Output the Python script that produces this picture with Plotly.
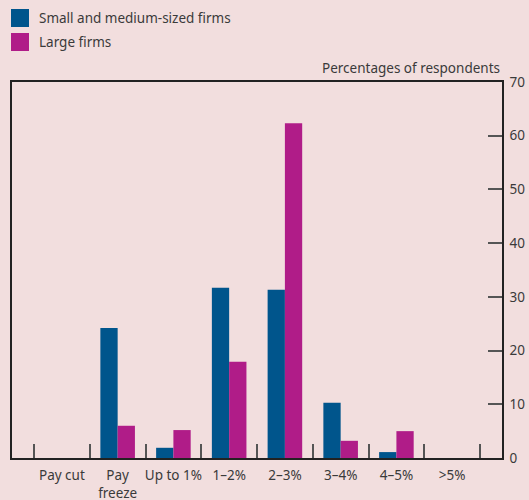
import plotly.graph_objects as go

categories = ["Pay cut", "Pay<br>freeze", "Up to 1%", "1–2%", "2–3%", "3–4%", "4–5%", ">5%"]
small_medium = [0, 24.2, 1.9, 31.7, 31.3, 10.3, 1.1, 0]
large = [0, 6.0, 5.2, 17.9, 62.3, 3.2, 5.0, 0]
series_names = ["Small and medium-sized firms", "Large firms"]
y_ticks = [0, 10, 20, 30, 40, 50, 60, 70]

BLUE = "#00558C"
MAGENTA = "#B01C88"
BG = "#F2DEDE"
TXT = "#3a3a3a"
FONT = "Noto Sans"

W, H = 529, 500
L, R, T, B = 12, 27, 82, 42
PW, PH = W - L - R, H - T - B

def px_x(px):
    return (px - L) / PW

def px_y(py):
    return (H - B - py) / PH

fig = go.Figure()
fig.add_trace(go.Bar(x=categories, y=small_medium, name=series_names[0],
                     marker=dict(color=BLUE, line=dict(width=0)), showlegend=False))
fig.add_trace(go.Bar(x=categories, y=large, name=series_names[1],
                     marker=dict(color=MAGENTA, line=dict(width=0)), showlegend=False))

fig.update_layout(
    width=W, height=H,
    margin=dict(l=L, r=R, t=T, b=B, autoexpand=False),
    paper_bgcolor=BG, plot_bgcolor=BG,
    barmode="group", bargap=0.38, bargroupgap=0,
    font=dict(family=FONT, size=13, color=TXT),
    xaxis=dict(type="category", range=[-0.895, 7.894], tickson="boundaries",
               ticks="inside", ticklen=14, tickcolor="#555", tickwidth=1.5,
               showline=True, linecolor="#222", linewidth=1.5, mirror=True,
               showgrid=False, zeroline=False, automargin=False,
               tickangle=0, ticklabelstandoff=4,
               tickfont=dict(family=FONT, size=13.5, color=TXT)),
    yaxis=dict(side="right", range=[0, 70], tickvals=y_ticks,
               ticks="inside", ticklen=14, tickcolor="#555", tickwidth=1.5,
               showline=True, linecolor="#222", linewidth=1.5, mirror=True,
               showgrid=False, zeroline=False, ticklabelstandoff=3, automargin=False,
               tickfont=dict(family=FONT, size=13.5, color=TXT)),
)

# Legend drawn as swatches + text
for i, (name, col) in enumerate(zip(series_names, [BLUE, MAGENTA])):
    y_top = 9 + i * 24
    fig.add_shape(type="rect", xref="paper", yref="paper",
                  x0=px_x(11), x1=px_x(29), y0=px_y(y_top), y1=px_y(y_top + 18),
                  fillcolor=col, line=dict(width=0))
    fig.add_annotation(text=name, xref="paper", yref="paper",
                       x=px_x(37), y=px_y(y_top + 9), xanchor="left", yanchor="middle",
                       showarrow=False, font=dict(family=FONT, size=13.5, color=TXT))

fig.add_annotation(text="Percentages of respondents", xref="paper", yref="paper",
                   x=1, y=px_y(68), xanchor="right", yanchor="middle",
                   showarrow=False, font=dict(family=FONT, size=13.5, color=TXT))

fig.write_html("out.html")
